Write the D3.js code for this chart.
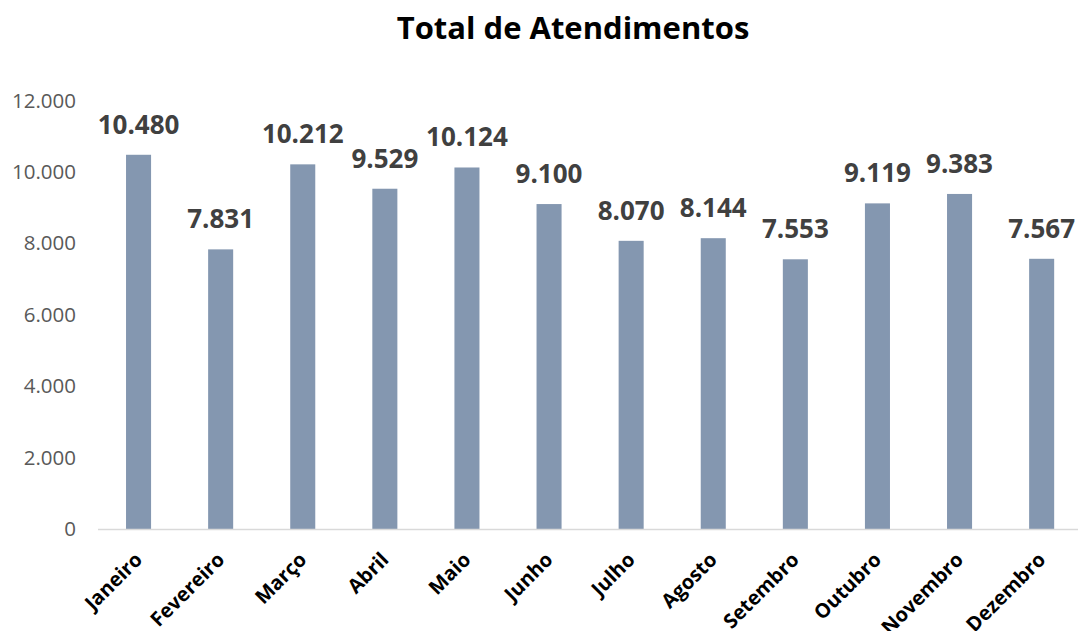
<!DOCTYPE html>
<html><head><meta charset="utf-8">
<script src="https://cdn.jsdelivr.net/npm/d3@7"></script>
<style>html,body{margin:0;padding:0;background:#fff;}svg{display:block;}</style>
</head><body>
<svg id="chart" width="1078" height="631"></svg>
<script>
const months = ["Janeiro","Fevereiro","Março","Abril","Maio","Junho","Julho","Agosto","Setembro","Outubro","Novembro","Dezembro"];
const values = [10480,7831,10212,9529,10124,9100,8070,8144,7553,9119,9383,7567];
const yTicks = [0,2000,4000,6000,8000,10000,12000];
const title = "Total de Atendimentos";

const font = "'Open Sans', sans-serif";
const svg = d3.select("#chart");
const fmt = d => d3.format(",")(d).replace(/,/g, ".");

const x = d3.scaleBand().domain(months).range([97.5, 1082.7]).padding(0);
const y = d3.scaleLinear().domain([0, 12000]).range([529, 100.5]);
const bw = x.step() * 0.305;

svg.append("text").attr("x", 573).attr("y", 39).attr("text-anchor", "middle")
  .attr("font-family", font).attr("font-weight", "bold").attr("font-size", 31)
  .attr("fill", "#000").text(title);

// y axis labels
const yAxis = d3.axisLeft(y).tickValues(yTicks).tickFormat(fmt).tickSize(0).tickPadding(0);
const gy = svg.append("g").attr("transform", "translate(76,0)").call(yAxis);
gy.select(".domain").remove();
gy.selectAll("text").attr("font-family", font).attr("font-size", 20.5).attr("fill", "#595959");

// bars
svg.selectAll("rect.bar").data(values).join("rect").attr("class", "bar")
  .attr("x", (d, i) => x(months[i]) + x.bandwidth() / 2 - bw / 2)
  .attr("width", bw)
  .attr("y", d => y(d)).attr("height", d => y(0) - y(d))
  .attr("fill", "#8497b0");

// baseline axis
const xAxis = d3.axisBottom(x).tickSize(0).tickPadding(0);
const gx = svg.append("g").attr("transform", "translate(0," + y(0) + ")").call(xAxis);
gx.select(".domain").attr("stroke", "#d9d9d9").attr("stroke-width", 1.5);
gx.selectAll(".tick text")
  .attr("font-family", font).attr("font-weight", "bold").attr("font-size", 20).attr("fill", "#000")
  .attr("text-anchor", "end").attr("dy", 0)
  .attr("transform", "translate(5,32) rotate(-45)");

// data labels
svg.selectAll("text.val").data(values).join("text").attr("class", "val")
  .attr("x", (d, i) => x(months[i]) + x.bandwidth() / 2)
  .attr("y", d => y(d) - 21)
  .attr("text-anchor", "middle")
  .attr("font-family", font).attr("font-weight", "bold").attr("font-size", 26)
  .attr("fill", "#404040").text(fmt);
</script>
</body></html>
